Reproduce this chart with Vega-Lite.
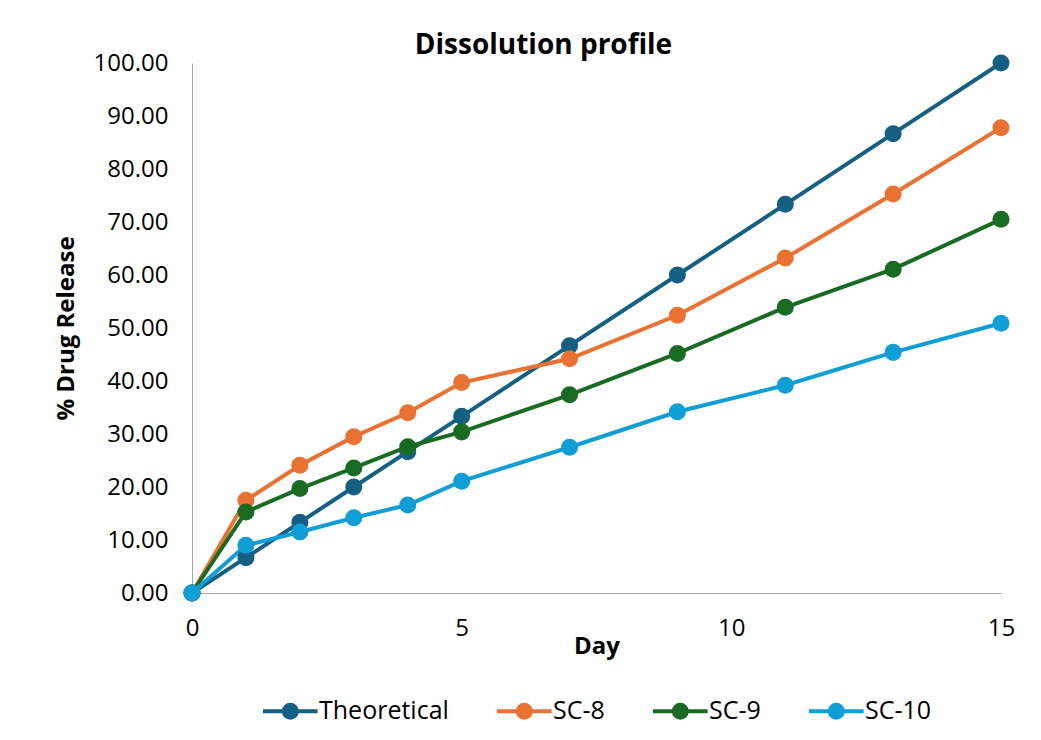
{
  "$schema": "https://vega.github.io/schema/vega-lite/v6.json",
  "width": 809,
  "height": 530,
  "padding": {"left": 54, "top": 32, "right": 20, "bottom": 10},
  "background": "white",
  "title": {"text": "Dissolution profile", "fontSize": 28, "font": "Open Sans", "fontWeight": "bold", "color": "#000000", "offset": -9, "anchor": "middle", "frame": "group", "dx": -53},
  "config": {"view": {"stroke": null}, "font": "Open Sans", "legend": {"layout": {"bottom": {"anchor": "middle"}}}},
  "data": {"values": [
    {"Day": 0, "Release": 0, "Series": "Theoretical"},
    {"Day": 1, "Release": 6.67, "Series": "Theoretical"},
    {"Day": 2, "Release": 13.33, "Series": "Theoretical"},
    {"Day": 3, "Release": 20.0, "Series": "Theoretical"},
    {"Day": 4, "Release": 26.67, "Series": "Theoretical"},
    {"Day": 5, "Release": 33.33, "Series": "Theoretical"},
    {"Day": 7, "Release": 46.67, "Series": "Theoretical"},
    {"Day": 9, "Release": 60.0, "Series": "Theoretical"},
    {"Day": 11, "Release": 73.33, "Series": "Theoretical"},
    {"Day": 13, "Release": 86.67, "Series": "Theoretical"},
    {"Day": 15, "Release": 100.0, "Series": "Theoretical"},
    {"Day": 0, "Release": 0, "Series": "SC-8"},
    {"Day": 1, "Release": 17.5, "Series": "SC-8"},
    {"Day": 2, "Release": 24.1, "Series": "SC-8"},
    {"Day": 3, "Release": 29.5, "Series": "SC-8"},
    {"Day": 4, "Release": 34.0, "Series": "SC-8"},
    {"Day": 5, "Release": 39.7, "Series": "SC-8"},
    {"Day": 7, "Release": 44.2, "Series": "SC-8"},
    {"Day": 9, "Release": 52.4, "Series": "SC-8"},
    {"Day": 11, "Release": 63.2, "Series": "SC-8"},
    {"Day": 13, "Release": 75.3, "Series": "SC-8"},
    {"Day": 15, "Release": 87.8, "Series": "SC-8"},
    {"Day": 0, "Release": 0, "Series": "SC-9"},
    {"Day": 1, "Release": 15.3, "Series": "SC-9"},
    {"Day": 2, "Release": 19.7, "Series": "SC-9"},
    {"Day": 3, "Release": 23.6, "Series": "SC-9"},
    {"Day": 4, "Release": 27.6, "Series": "SC-9"},
    {"Day": 5, "Release": 30.4, "Series": "SC-9"},
    {"Day": 7, "Release": 37.4, "Series": "SC-9"},
    {"Day": 9, "Release": 45.2, "Series": "SC-9"},
    {"Day": 11, "Release": 53.9, "Series": "SC-9"},
    {"Day": 13, "Release": 61.1, "Series": "SC-9"},
    {"Day": 15, "Release": 70.5, "Series": "SC-9"},
    {"Day": 0, "Release": 0, "Series": "SC-10"},
    {"Day": 1, "Release": 9.0, "Series": "SC-10"},
    {"Day": 2, "Release": 11.5, "Series": "SC-10"},
    {"Day": 3, "Release": 14.2, "Series": "SC-10"},
    {"Day": 4, "Release": 16.6, "Series": "SC-10"},
    {"Day": 5, "Release": 21.1, "Series": "SC-10"},
    {"Day": 7, "Release": 27.5, "Series": "SC-10"},
    {"Day": 9, "Release": 34.2, "Series": "SC-10"},
    {"Day": 11, "Release": 39.2, "Series": "SC-10"},
    {"Day": 13, "Release": 45.4, "Series": "SC-10"},
    {"Day": 15, "Release": 50.9, "Series": "SC-10"}
  ]},
  "mark": {"type": "line", "strokeWidth": 4, "point": {"size": 290, "filled": true, "opacity": 1}},
  "encoding": {
    "x": {"field": "Day", "type": "quantitative", "scale": {"domain": [0, 15], "nice": false},
      "axis": {"title": "Day", "titleFontSize": 24, "titleFontWeight": "bold", "titleColor": "#000", "labelFontSize": 24, "labelColor": "#000", "values": [0, 5, 10, 15], "ticks": false, "grid": false, "domainColor": "#a6a6a6", "labelPadding": 23, "titlePadding": -6, "labelFlush": false}},
    "y": {"field": "Release", "type": "quantitative", "scale": {"domain": [0, 100], "nice": false},
      "axis": {"title": "% Drug Release", "titleFontSize": 24, "titleFontWeight": "bold", "titleColor": "#000", "labelFontSize": 24, "labelColor": "#000", "format": ".2f", "values": [0, 10, 20, 30, 40, 50, 60, 70, 80, 90, 100], "ticks": false, "grid": false, "domainColor": "#a6a6a6", "labelPadding": 24, "titlePadding": 15}},
    "color": {"field": "Series", "type": "nominal",
      "scale": {"domain": ["Theoretical", "SC-8", "SC-9", "SC-10"], "range": ["#156082", "#E97132", "#196B24", "#0F9ED5"]},
      "legend": {"orient": "bottom", "direction": "horizontal", "title": null, "labelFontSize": 25, "labelColor": "#000", "symbolType": "M-1,0H3.2M0.6,0a0.5,0.5 0 1,0 1,0a0.5,0.5 0 1,0 -1,0", "symbolSize": 676, "symbolStrokeWidth": 4, "columnPadding": 40, "labelOffset": 28, "offset": 38}}
  }
}
